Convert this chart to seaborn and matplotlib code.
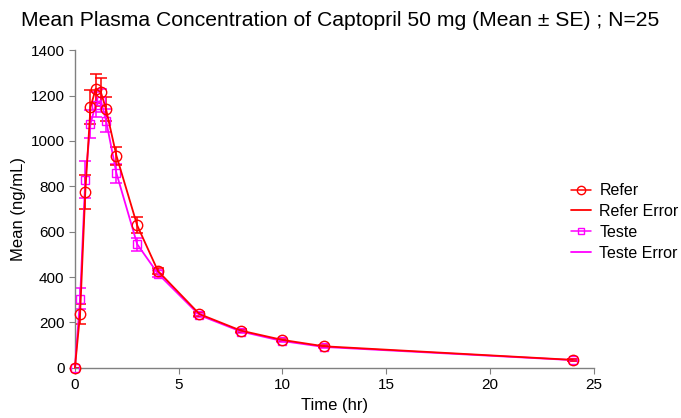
"""Mean plasma concentration of Captopril 50 mg (Mean +/- SE), Refer vs Teste."""

import matplotlib
matplotlib.use("Agg")
import matplotlib.pyplot as plt
from matplotlib.lines import Line2D
import pandas as pd
import seaborn as sns

sns.set_theme(style="white")
plt.rcParams["font.family"] = ["Liberation Sans", "DejaVu Sans"]
plt.rcParams["text.color"] = "black"
plt.rcParams["axes.labelcolor"] = "black"
plt.rcParams["xtick.color"] = "black"
plt.rcParams["ytick.color"] = "black"

time_hr = [0, 0.25, 0.5, 0.75, 1, 1.25, 1.5, 2, 3, 4, 6, 8, 10, 12, 24]
refer_mean = [0, 238, 775, 1148, 1230, 1215, 1140, 935, 628, 427, 237, 164, 123, 95, 35]
refer_se = [0, 44, 73, 75, 65, 62, 52, 40, 35, 15, 10, 8, 6, 5, 3]
teste_mean = [0, 305, 830, 1075, 1160, 1178, 1090, 858, 545, 415, 232, 160, 118, 92, 34]
teste_se = [0, 45, 82, 60, 55, 50, 52, 42, 28, 15, 10, 8, 6, 5, 3]

RED = "#ff0000"
MAGENTA = "#ff00ff"

refer_df = pd.DataFrame({"time": time_hr, "mean": refer_mean, "se": refer_se})
teste_df = pd.DataFrame({"time": time_hr, "mean": teste_mean, "se": teste_se})

fig = plt.figure(figsize=(6.81, 4.18), dpi=100)
ax = fig.add_axes([0.110, 0.120, 0.762, 0.760])

for df, color, marker, ms in [(teste_df, MAGENTA, "s", 6), (refer_df, RED, "o", 7.5)]:
    ax.errorbar(df["time"], df["mean"], yerr=df["se"], fmt="none",
                ecolor=color, elinewidth=1.1, capsize=4, capthick=1.1, zorder=2)
    sns.lineplot(data=df, x="time", y="mean", ax=ax, color=color, linewidth=1.3,
                 marker=marker, markersize=ms, markerfacecolor="none",
                 markeredgecolor=color, markeredgewidth=1.0, errorbar=None,
                 sort=False, zorder=3, clip_on=False)

ax.set_xlim(0, 25)
ax.set_ylim(0, 1400)
ax.set_xticks([0, 5, 10, 15, 20, 25])
ax.set_yticks(range(0, 1401, 200))
ax.tick_params(axis="both", labelsize=11, length=4, width=0.8, color="#808080",
               labelcolor="black", direction="out", bottom=True, left=True)
for side in ["top", "right"]:
    ax.spines[side].set_visible(False)
for side in ["left", "bottom"]:
    ax.spines[side].set_color("#808080")
    ax.spines[side].set_linewidth(1.0)
ax.set_xlabel("Time (hr)", fontsize=12, labelpad=4)
ax.set_ylabel("Mean (ng/mL)", fontsize=12, labelpad=3)

fig.text(0.5, 0.952, "Mean Plasma Concentration of Captopril 50 mg (Mean \u00b1 SE) ; N=25",
         ha="center", va="center", fontsize=15.2)

handles = [
    Line2D([], [], color=RED, marker="o", markerfacecolor="none", markersize=6, linewidth=1.1),
    Line2D([], [], color=RED, linewidth=1.3),
    Line2D([], [], color=MAGENTA, marker="s", markerfacecolor="none", markersize=5, linewidth=1.1),
    Line2D([], [], color=MAGENTA, linewidth=1.3),
]
labels = ["Refer", "Refer Error", "Teste", "Teste Error"]
fig.legend(handles, labels, loc="center left", bbox_to_anchor=(0.838, 0.469),
           frameon=False, fontsize=11.5, handlelength=1.3, handletextpad=0.5,
           labelspacing=0.36, borderaxespad=0, borderpad=0)

fig.savefig("out.png", dpi=100)
plt.close(fig)
